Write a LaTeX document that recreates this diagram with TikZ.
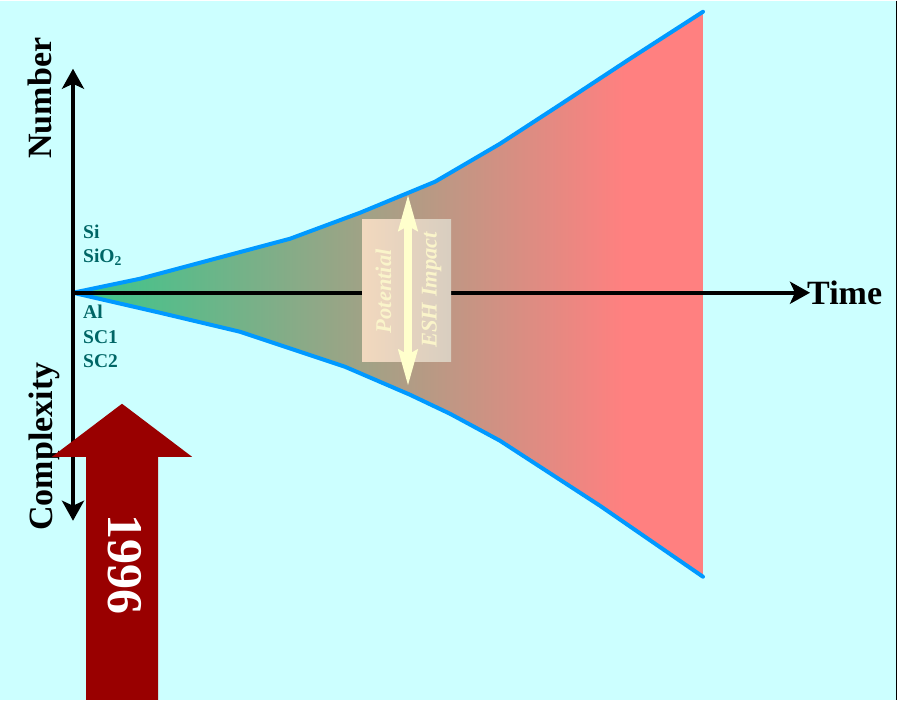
\documentclass[tikz,border=0pt]{standalone}
\usepackage{fontspec}
\setmainfont{Liberation Serif}
\usetikzlibrary{arrows.meta}
\definecolor{bg}{RGB}{204,255,255}
\definecolor{edgeblue}{RGB}{0,153,255}
\definecolor{fgreen}{RGB}{55,200,140}
\definecolor{fsalmon}{RGB}{255,128,128}
\definecolor{labteal}{RGB}{0,102,102}
\definecolor{bigred}{RGB}{153,0,0}
\definecolor{cream}{RGB}{255,255,204}
\definecolor{boxleft}{RGB}{242,216,190}
\definecolor{boxright}{RGB}{216,206,192}
\definecolor{boxtext}{RGB}{250,244,202}
\tikzset{
  axisline/.style={line width=4pt, black, -{Stealth[length=20pt,width=22pt,inset=5pt]}},
  edgeline/.style={edgeblue, line width=4pt, line join=round, line cap=round},
  axislabel/.style={font=\bfseries\fontsize{34}{40}\selectfont, inner sep=0pt},
  matlabel/.style={font=\bfseries\fontsize{19.5}{23}\selectfont, text=labteal, inner sep=0pt, anchor=base west},
  boxtxt/.style={font=\bfseries\itshape\fontsize{22.5}{27}\selectfont, text=boxtext, inner sep=0pt, rotate=90},
  dblarrow/.style={cream, line width=8pt, {Stealth[length=36pt,width=18pt,inset=4pt]}-{Stealth[length=36pt,width=18pt,inset=4pt]}}
}
\begin{document}
\begin{tikzpicture}[x=1pt,y=-1pt]
\fill[white] (0,0) rectangle (902,699);
\fill[bg] (0,0) rectangle (896,699);
\draw[black, line width=1.5pt] (896.5,0) -- (896.5,699);
\useasboundingbox (0,0) rectangle (902,699);

% funnel
\begin{scope}
\clip (73,292) -- (140,278) -- (215,258) -- (290,238) -- (360,212) -- (435,181) -- (500,143) -- (560,104) -- (630,58) -- (703,11)
  -- (703,576) -- (600,505) -- (500,440) -- (450,413) -- (410,394) -- (345,366) -- (240,331) -- (160,312) -- cycle;
\fill[fsalmon] (73,0) rectangle (703,699);
\shade[left color=fgreen, right color=fsalmon] (73,0) rectangle (625,699);
\end{scope}
\draw[edgeline] (73,292) -- (140,278) -- (215,258) -- (290,238) -- (360,212) -- (435,181) -- (500,143) -- (560,104) -- (630,58) -- (703,11);
\draw[edgeline] (73,292) -- (160,312) -- (240,331) -- (345,366) -- (410,394) -- (450,413) -- (500,440) -- (600,505) -- (703,576);

% axes
\coordinate (O) at (73,292);
\coordinate (vtop) at (73,68);
\coordinate (vbot) at (73,520);
\coordinate (htip) at (810,292);
\draw[axisline] (O) -- (vtop);
\draw[axisline] (O) -- (vbot);
\draw[axisline] (O) -- (htip);

\node[axislabel, anchor=base west] (time) at (807,304) {Time};
\node[axislabel, rotate=90, anchor=base west] (number) at (51,158) {Number};
\node[axislabel, rotate=90, anchor=base west] (complexity) at (52,530) {Complexity};

% material labels
\node[matlabel] (si) at (83,238) {Si};
\node[matlabel] (sio2) at (83,262) {SiO\textsubscript{2}};
\node[matlabel] (al) at (83,318) {Al};
\node[matlabel] (sc1) at (83,343) {SC1};
\node[matlabel] (sc2) at (83,367) {SC2};

% big 1996 arrow
\fill[bigred] (86,699) -- (86,456) -- (52,456) -- (122,403) -- (192,456) -- (158,456) -- (158,699) -- cycle;
\node[rotate=-90, text=white, inner sep=0pt, font=\bfseries\fontsize{50}{60}\selectfont] (year) at (124.5,564) {1996};

% ESH box
\shade[left color=boxleft, right color=boxright] (362,219) rectangle (451,361);
\coordinate (dtop) at (408,193);
\coordinate (dbot) at (408,386);
\draw[dblarrow] (dtop) -- (dbot);
\node[boxtxt] (potential) at (383.5,290.5) {Potential};
\node[boxtxt] (esh) at (431.5,289) {ESH Impact};
\end{tikzpicture}
\end{document}
